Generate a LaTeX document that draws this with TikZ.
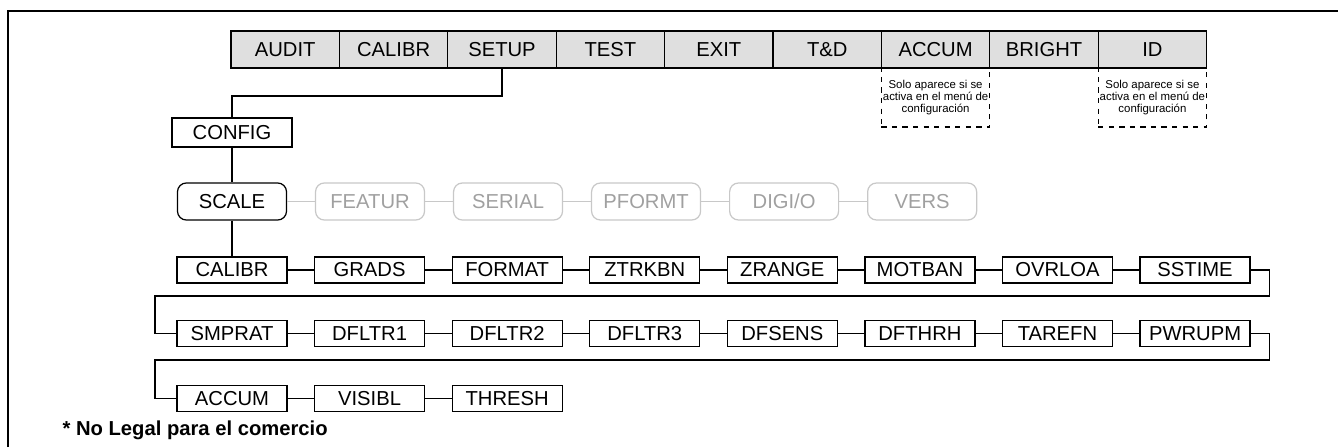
\documentclass[tikz,border=0pt]{standalone}
\usepackage{fontspec}
\setmainfont{Liberation Sans}
\definecolor{menugray}{RGB}{223,223,223}
\definecolor{offline}{RGB}{200,200,200}
\definecolor{offtext}{RGB}{160,160,160}
\usetikzlibrary{positioning}

\begin{document}
\begin{tikzpicture}[
  line width=0.7pt,
  topcell/.style={draw,fill=menugray,minimum width=2.168cm,minimum height=0.74cm,
    inner sep=0pt,outer sep=0pt,font=\fontsize{11.5}{13}\selectfont},
  notebox/.style={draw,dashed,minimum width=2.168cm,minimum height=1.18cm,
    inner sep=0pt,outer sep=0pt,align=center,font=\fontsize{6.5}{6.9}\selectfont},
  param/.style={draw,minimum width=2.2cm,minimum height=0.52cm,inner sep=0pt,
    font=\fontsize{11.5}{13}\selectfont},
  menubox/.style={draw,rounded corners=5pt,minimum width=2.18cm,minimum height=0.74cm,
    inner sep=0pt,font=\fontsize{11.5}{13}\selectfont},
  grayed/.style={menubox,draw=offline,text=offtext},
  offlink/.style={offline}
]
  \useasboundingbox (0,0) rectangle (26.76,8.94);
  % Frame
  \draw (0.16,0) -- (0.16,8.72) -- (26.76,8.72);

  % Top menu bar
  \node[topcell] (audit) at (5.704,7.95) {AUDIT};
  \node[topcell,right=0cm of audit] (calibr) {CALIBR};
  \node[topcell,right=0cm of calibr] (setup) {SETUP};
  \node[topcell,right=0cm of setup] (test) {TEST};
  \node[topcell,right=0cm of test] (exit) {EXIT};
  \node[topcell,right=0cm of exit] (td) {T\&D};
  \node[topcell,right=0cm of td] (accum) {ACCUM};
  \node[topcell,right=0cm of accum] (bright) {BRIGHT};
  \node[topcell,right=0cm of bright] (id) {ID};
  \node[notebox,below=0cm of accum] (accumnote) {Solo aparece si se\\activa en el menú de\\configuración};
  \node[notebox,below=0cm of id] (idnote) {Solo aparece si se\\activa en el menú de\\configuración};

  % Setup branch
  \node[param,minimum width=2.4cm,minimum height=0.58cm] (config) at (4.64,6.29) {CONFIG};
  \draw (setup.south) -- ++(0,-0.56) -| (config.north);
  \node[menubox] (scale) at (4.64,4.91) {SCALE};
  \node[grayed,right=0.556cm of scale] (featur) {FEATUR};
  \node[grayed,right=0.556cm of featur] (serial) {SERIAL};
  \node[grayed,right=0.556cm of serial] (pformt) {PFORMT};
  \node[grayed,right=0.556cm of pformt] (digio) {DIGI/O};
  \node[grayed,right=0.556cm of digio] (vers) {VERS};
  \draw (config.south) -- (scale.north);
  \draw[offlink] (scale.east) -- (featur.west);
  \draw[offlink] (featur.east) -- (serial.west);
  \draw[offlink] (serial.east) -- (pformt.west);
  \draw[offlink] (pformt.east) -- (digio.west);
  \draw[offlink] (digio.east) -- (vers.west);

  % Scale parameters, row 1
  \node[param] (calibrp) at (4.64,3.54) {CALIBR};
  \node[param,right=0.527cm of calibrp] (grads) {GRADS};
  \node[param,right=0.527cm of grads] (format) {FORMAT};
  \node[param,right=0.527cm of format] (ztrkbn) {ZTRKBN};
  \node[param,right=0.527cm of ztrkbn] (zrange) {ZRANGE};
  \node[param,right=0.527cm of zrange] (motban) {MOTBAN};
  \node[param,right=0.527cm of motban] (ovrloa) {OVRLOA};
  \node[param,right=0.527cm of ovrloa] (sstime) {SSTIME};
  \draw (scale.south) -- (calibrp.north);
  \draw (calibrp.east) -- (grads.west);
  \draw (grads.east) -- (format.west);
  \draw (format.east) -- (ztrkbn.west);
  \draw (ztrkbn.east) -- (zrange.west);
  \draw (zrange.east) -- (motban.west);
  \draw (motban.east) -- (ovrloa.west);
  \draw (ovrloa.east) -- (sstime.west);

  % Row 2
  \node[param] (smprat) at (4.64,2.27) {SMPRAT};
  \node[param,right=0.527cm of smprat] (dfltr1) {DFLTR1};
  \node[param,right=0.527cm of dfltr1] (dfltr2) {DFLTR2};
  \node[param,right=0.527cm of dfltr2] (dfltr3) {DFLTR3};
  \node[param,right=0.527cm of dfltr3] (dfsens) {DFSENS};
  \node[param,right=0.527cm of dfsens] (dfthrh) {DFTHRH};
  \node[param,right=0.527cm of dfthrh] (tarefn) {TAREFN};
  \node[param,right=0.527cm of tarefn] (pwrupm) {PWRUPM};
  \coordinate (wrapa) at (3.10,3.02);
  \draw (sstime.east) -- ++(0.38,0) |- (wrapa) |- (smprat.west);
  \draw (smprat.east) -- (dfltr1.west);
  \draw (dfltr1.east) -- (dfltr2.west);
  \draw (dfltr2.east) -- (dfltr3.west);
  \draw (dfltr3.east) -- (dfsens.west);
  \draw (dfsens.east) -- (dfthrh.west);
  \draw (dfthrh.east) -- (tarefn.west);
  \draw (tarefn.east) -- (pwrupm.west);

  % Row 3
  \node[param] (accump) at (4.64,0.97) {ACCUM};
  \node[param,right=0.527cm of accump] (visibl) {VISIBL};
  \node[param,right=0.527cm of visibl] (thresh) {THRESH};
  \coordinate (wrapb) at (3.10,1.74);
  \draw (pwrupm.east) -- ++(0.38,0) |- (wrapb) |- (accump.west);
  \draw (accump.east) -- (visibl.west);
  \draw (visibl.east) -- (thresh.west);

  % Footnote
  \node[anchor=base west,inner sep=0pt,font=\fontsize{11.5}{13}\selectfont\bfseries] (legal)
    at (1.24,0.24) {* No Legal para el comercio};
\end{tikzpicture}
\end{document}
